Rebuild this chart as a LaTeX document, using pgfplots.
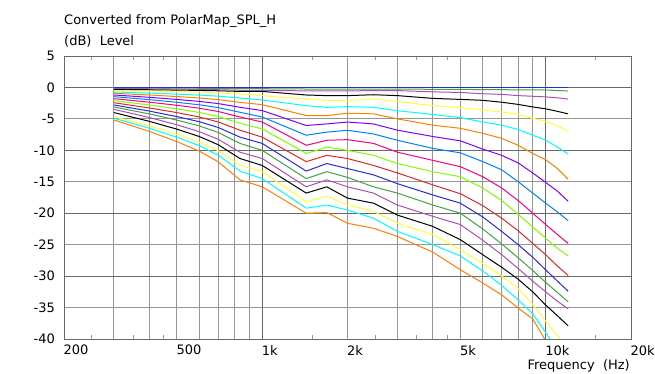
\documentclass[border=0pt]{standalone}
\usepackage{pgfplots}
\usepackage{pgfplotstable}
\pgfplotsset{compat=1.18}
\usepackage{fontspec}
\setmainfont{DejaVu Sans}
\definecolor{gl}{RGB}{150,150,150}
\definecolor{gd}{RGB}{105,105,105}
\definecolor{cA}{RGB}{40,40,220}
\definecolor{cB}{RGB}{70,160,70}
\definecolor{cC}{RGB}{170,80,180}
\definecolor{cD}{RGB}{0,0,0}
\definecolor{cE}{RGB}{255,255,60}
\definecolor{cF}{RGB}{0,255,255}
\definecolor{cG}{RGB}{255,128,0}
\definecolor{cH}{RGB}{128,0,255}
\definecolor{cI}{RGB}{0,128,255}
\definecolor{cJ}{RGB}{255,0,128}
\definecolor{cK}{RGB}{128,255,0}
\definecolor{cL}{RGB}{220,40,40}

\pgfplotstableread{
f     a0  a5    a10   a15   a20   a25   a30    a35    a40    a45    a50    a55    a60    a65    a70    a75    a80    a85    a90
300   0  -0.05 -0.15 -0.30 -0.45 -0.72 -0.93  -1.20  -1.47  -1.79  -2.11  -2.43  -2.79  -3.11  -3.48  -4.00  -4.65  -4.90  -5.18
400   0  -0.08 -0.21 -0.36 -0.56 -0.90 -1.20  -1.57  -1.94  -2.34  -2.79  -3.26  -3.76  -4.21  -4.78  -5.39  -6.12  -6.50  -6.99
500   0  -0.10 -0.26 -0.42 -0.67 -1.07 -1.45  -1.91  -2.36  -2.84  -3.40  -4.00  -4.63  -5.19  -5.94  -6.63  -7.44  -7.92  -8.61
600   0  -0.13 -0.31 -0.47 -0.76 -1.22 -1.68  -2.22  -2.76  -3.30  -3.98  -4.70  -5.45  -6.12  -7.03  -7.80  -8.68  -9.27  -10.13
700   0  -0.16 -0.36 -0.53 -0.87 -1.39 -1.94  -2.57  -3.21  -3.83  -4.62  -5.49  -6.37  -7.16  -8.25  -9.11  -10.08 -10.78 -11.84
835   0  -0.20 -0.45 -0.63 -1.05 -1.68 -2.37  -3.16  -3.95  -4.70  -5.70  -6.80  -7.90  -8.90  -10.30 -11.30 -12.40 -13.30 -14.70
1000  0  -0.20 -0.45 -0.63 -1.30 -2.00 -2.74  -3.68  -4.70  -5.50  -6.60  -7.90  -8.90  -10.00 -11.30 -12.40 -13.40 -14.50 -15.80
1430  0  -0.25 -0.55 -1.20 -1.84 -2.90 -4.47  -6.05  -7.60  -9.20  -10.50 -11.80 -13.30 -14.50 -15.80 -16.80 -18.20 -19.20 -20.00
1690  0  -0.25 -0.55 -1.30 -2.10 -3.16 -4.47  -5.80  -7.10  -8.40  -9.50  -10.80 -12.10 -13.40 -14.70 -15.80 -17.30 -18.70 -19.90
2000  0  -0.25 -0.55 -1.30 -2.10 -3.05 -4.10  -5.50  -6.80  -8.30  -10.00 -11.30 -12.90 -14.30 -15.80 -17.60 -18.70 -19.50 -21.60
2470  0  -0.25 -0.50 -1.16 -1.84 -3.16 -4.20  -5.80  -7.40  -8.90  -10.80 -12.40 -13.90 -15.80 -16.80 -18.40 -19.70 -20.80 -22.40
3000  0  -0.25 -0.50 -1.30 -2.26 -3.70 -5.00  -6.80  -8.40  -10.30 -12.10 -13.60 -15.30 -16.80 -18.70 -20.30 -21.60 -22.90 -23.70
4000  0  -0.30 -0.70 -1.74 -2.90 -4.30 -6.00  -7.80  -9.70  -11.60 -13.40 -15.50 -17.10 -18.70 -20.50 -22.10 -23.40 -25.00 -26.20
5000  0  -0.30 -0.80 -1.90 -3.20 -4.80 -6.50  -8.50  -10.40 -12.60 -14.20 -16.90 -18.40 -20.00 -21.80 -24.20 -25.80 -26.80 -29.00
6000  0  -0.35 -1.00 -2.05 -3.60 -5.50 -7.30  -9.80  -11.80 -14.20 -16.00 -18.80 -20.60 -22.50 -24.30 -26.60 -28.00 -29.20 -31.10
7000  0  -0.35 -1.10 -2.35 -3.90 -6.00 -8.10  -10.80 -13.10 -16.00 -18.00 -20.80 -22.90 -24.90 -26.60 -28.60 -30.00 -31.50 -33.00
8000  0  -0.40 -1.30 -2.70 -4.30 -6.70 -9.20  -12.00 -15.00 -18.00 -20.20 -22.80 -25.00 -27.10 -28.80 -30.50 -32.00 -33.80 -35.10
9000  0  -0.40 -1.40 -3.10 -4.90 -7.60 -10.50 -13.60 -16.80 -20.00 -22.20 -24.80 -27.00 -29.10 -30.80 -32.50 -34.50 -36.00 -36.80
10000 0  -0.40 -1.50 -3.40 -5.40 -8.40 -11.50 -15.10 -18.40 -21.80 -24.00 -26.60 -29.00 -31.00 -32.50 -34.60 -37.20 -39.00 -40.30
11000 0  -0.50 -1.65 -3.80 -6.10 -9.50 -12.90 -16.50 -19.80 -23.40 -25.60 -28.40 -30.80 -32.60 -34.00 -36.30 -39.50 -42.00 -43.00
12000 0  -0.55 -1.85 -4.20 -7.00 -10.60 -14.60 -18.10 -21.20 -24.80 -26.80 -29.90 -32.40 -34.10 -35.20 -37.90 -42.00 -44.00 -45.00
}\spl

\begin{document}
\fontsize{13bp}{15.5bp}\selectfont
\begin{tikzpicture}
\path[use as bounding box] (-64bp,-35bp) rectangle (591bp,339bp);
\begin{axis}[
  at={(0,0)}, anchor=south west,
  scale only axis, width=567bp, height=283bp,
  xmode=log, xmin=200, xmax=20000, ymin=-40, ymax=5,
  axis line style={gd, line width=0.9bp},
  xtick={250,350,450,1500,2500,3500,4500,15000},
  xticklabels={},
  major tick length=4bp,
  tick style={gl, line width=0.8bp},
  tick align=inside,
  minor xtick={300,400,500,600,700,800,900,2000,3000,4000,5000,6000,7000,8000,9000},
  xminorgrids, minor tick length=0,
  minor grid style={gl, line width=0.9bp},
  extra x ticks={200,500,1000,2000,5000,10000,20000},
  extra x tick labels={200,500,1k,2k,5k,10k,20k},
  extra x tick style={major tick length=0, grid=none},
  xticklabel style={anchor=north west, inner sep=0pt, yshift=-6bp, xshift=-0.5bp},
  ytick={-40,-35,...,5},
  yticklabels={-40,-35,-30,-25,-20,-15,-10,-5,0,5},
  ytick style={draw=none},
  ymajorgrids, major grid style={gl, line width=0.9bp},
  yticklabel style={anchor=east, inner sep=0pt, xshift=-9bp},
  every axis plot/.append style={line width=1bp, no markers},
]
\draw[gd, line width=0.9bp] (axis cs:1000,-40) -- (axis cs:1000,5);
\draw[gd, line width=0.9bp] (axis cs:10000,-40) -- (axis cs:10000,5);
\draw[gd, line width=0.9bp] (axis cs:200,0) -- (axis cs:20000,0);
\draw[gd, line width=0.9bp] (axis cs:200,-10) -- (axis cs:20000,-10);
\draw[gd, line width=0.9bp] (axis cs:200,-20) -- (axis cs:20000,-20);
\draw[gd, line width=0.9bp] (axis cs:200,-30) -- (axis cs:20000,-30);
\addplot[cG] table[x=f,y=a90]{\spl};
\addplot[cF] table[x=f,y=a85]{\spl};
\addplot[cE] table[x=f,y=a80]{\spl};
\addplot[cD] table[x=f,y=a75]{\spl};
\addplot[cC] table[x=f,y=a70]{\spl};
\addplot[cB] table[x=f,y=a65]{\spl};
\addplot[cA] table[x=f,y=a60]{\spl};
\addplot[cL] table[x=f,y=a55]{\spl};
\addplot[cK] table[x=f,y=a50]{\spl};
\addplot[cJ] table[x=f,y=a45]{\spl};
\addplot[cI] table[x=f,y=a40]{\spl};
\addplot[cH] table[x=f,y=a35]{\spl};
\addplot[cG] table[x=f,y=a30]{\spl};
\addplot[cF] table[x=f,y=a25]{\spl};
\addplot[cE] table[x=f,y=a20]{\spl};
\addplot[cD] table[x=f,y=a15]{\spl};
\addplot[cC] table[x=f,y=a10]{\spl};
\addplot[cB] table[x=f,y=a5]{\spl};
\addplot[cA] table[x=f,y=a0]{\spl};
\end{axis}
\node[anchor=base east, inner sep=0pt] at (566bp,-30bp) {Frequency\ \ (Hz)};
\node[anchor=base west, inner sep=0pt] at (0bp,314bp) {Converted from PolarMap\_SPL\_H};
\node[anchor=base west, inner sep=0pt] at (0bp,293bp) {(dB)\ \ Level};
\end{tikzpicture}
\end{document}
